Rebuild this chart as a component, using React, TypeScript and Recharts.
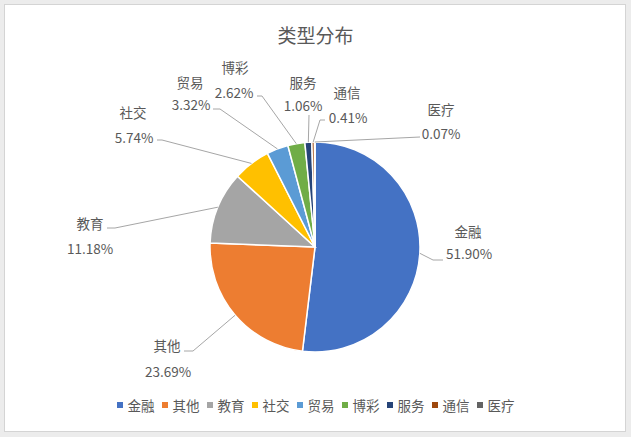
import { PieChart, Pie, Cell, Legend } from 'recharts';

// 类型分布 — share of each category (%)
const CATEGORIES = ['金融', '其他', '教育', '社交', '贸易', '博彩', '服务', '通信', '医疗'];
const SHARES = [51.9, 23.69, 11.18, 5.74, 3.32, 2.62, 1.06, 0.41, 0.07];
const COLORS = ['#4472C4', '#ED7D31', '#A5A5A5', '#FFC000', '#5B9BD5', '#70AD47', '#264478', '#9E480E', '#636363'];

const DATA = CATEGORIES.map((name, i) => ({ name, value: SHARES[i] }));

const FONT = '"Noto Sans CJK SC", "Noto Sans", sans-serif';
const TEXT = '#595959';
const LINE = '#a6a6a6';

// where each data label sits, and the bend of its leader line
const LABEL_LAYOUT = [
  { name: [468, 231], pct: [469, 253], line: [[433, 260], [443, 260]] },
  { name: [167, 345], pct: [168, 371], line: [[193, 351], [184, 351]] },
  { name: [90, 223], pct: [90, 248], line: [[115, 228], [107, 228]] },
  { name: [133, 112], pct: [134, 137], line: [[162, 140], [157, 140]] },
  { name: [190, 82], pct: [191, 104], line: [[220, 109], [213, 109]] },
  { name: [235, 67], pct: [234, 92], line: [[262, 96], [257, 96]] },
  { name: [303, 82], pct: [303, 105], line: [[309, 115]] },
  { name: [347, 92], pct: [348, 117], line: [[320, 120], [325, 120]] },
  { name: [441, 109], pct: [441, 133], line: [[420, 137]] },
];

const RAD = Math.PI / 180;

function SliceLabel(props: any) {
  const { cx, cy, midAngle, outerRadius, index, name, value } = props;
  const lay = LABEL_LAYOUT[index];
  if (!lay) return null;
  const sx = cx + outerRadius * Math.cos(-midAngle * RAD);
  const sy = cy + outerRadius * Math.sin(-midAngle * RAD);
  const pts = [[sx, sy], ...lay.line].map((p) => p.join(',')).join(' ');
  return (
    <g>
      <polyline points={pts} fill="none" stroke={LINE} strokeWidth={1} />
      <text x={lay.name[0]} y={lay.name[1]} textAnchor="middle" dominantBaseline="central" fill={TEXT} fontSize={13.5} fontFamily={FONT}>
        {name}
      </text>
      <text x={lay.pct[0]} y={lay.pct[1]} textAnchor="middle" dominantBaseline="central" fill={TEXT} fontSize={13.5} fontFamily={FONT}>
        {value.toFixed(2)}%
      </text>
    </g>
  );
}

// legend keeps the data order (recharts would sort it otherwise)
function LegendRow() {
  return (
    <div style={{ display: 'flex', justifyContent: 'center', alignItems: 'center', fontFamily: FONT, fontSize: 13.5, color: TEXT }}>
      {CATEGORIES.map((c, i) => (
        <div key={`lg-${i}`} style={{ display: 'flex', alignItems: 'center', marginRight: i === CATEGORIES.length - 1 ? 0 : 7 }}>
          <span style={{ width: 6, height: 6, background: COLORS[i], marginRight: 5, display: 'inline-block' }} />
          <span>{c}</span>
        </div>
      ))}
    </div>
  );
}

export default function App() {
  return (
    <div style={{ position: 'absolute', left: 0, top: 0, width: 631, height: 437, background: '#ececec' }}>
      <div
        style={{
          position: 'absolute',
          left: 4,
          top: 4,
          width: 620,
          height: 426,
          background: '#fff',
          border: '1px solid #d4d4d4',
        }}
      />
      <div
        style={{
          position: 'absolute',
          left: 0,
          top: 20,
          width: 631,
          textAlign: 'center',
          fontFamily: FONT,
          fontSize: 19,
          color: TEXT,
          lineHeight: '30px',
        }}
      >
        类型分布
      </div>
      <div style={{ position: 'absolute', left: 0, top: 0 }}>
        <PieChart width={631} height={437} margin={{ top: 0, right: 0, bottom: 0, left: 0 }}>
          <Pie
            data={DATA}
            dataKey="value"
            nameKey="name"
            cx={315}
            cy={247}
            outerRadius={105}
            startAngle={90}
            endAngle={-270}
            stroke="#fff"
            strokeWidth={1.5}
            isAnimationActive={false}
            label={<SliceLabel />}
            labelLine={false}
          >
            {DATA.map((d, i) => (
              <Cell key={`cell-${i}`} fill={COLORS[i]} />
            ))}
          </Pie>
          <Legend
            content={<LegendRow />}
            wrapperStyle={{ position: 'absolute', top: 395, left: 0, width: 631, height: 20 }}
          />
        </PieChart>
      </div>
    </div>
  );
}
